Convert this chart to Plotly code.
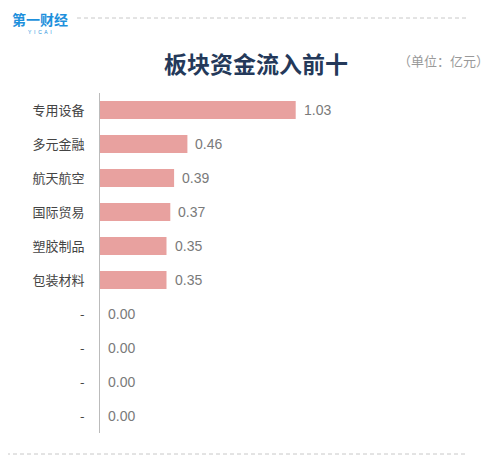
import plotly.graph_objects as go

categories = ["专用设备", "多元金融", "航天航空", "国际贸易", "塑胶制品", "包装材料", "-", "-", "-", "-"]
values = [1.03, 0.46, 0.39, 0.37, 0.35, 0.35, 0.00, 0.00, 0.00, 0.00]
value_labels = ["1.03", "0.46", "0.39", "0.37", "0.35", "0.35", "0.00", "0.00", "0.00", "0.00"]

# page has a small body margin; work in screen pixels and subtract it
OFF = 7
W, H = 490, 465
L = 99 - OFF
T = 92 - OFF
PLOT_W = 247
PLOT_H = 340
R = W - L - PLOT_W
B = H - T - PLOT_H
positions = list(range(len(categories)))

FONT = "Liberation Sans, Noto Sans CJK SC, sans-serif"


def px(x):
    return (x - OFF - L) / PLOT_W


def py(y):
    return (T + PLOT_H - (y - OFF)) / PLOT_H


fig = go.Figure()
fig.add_trace(go.Bar(
    x=values, y=positions, orientation="h",
    marker=dict(color="#e8a19f", line=dict(width=0)),
    hoverinfo="skip", showlegend=False,
))

annotations = []
for p, v, lab in zip(positions, values, value_labels):
    annotations.append(dict(
        x=v, y=p, xref="x", yref="y", text=lab, showarrow=False,
        xanchor="left", yanchor="middle", xshift=6,
        font=dict(family=FONT, size=14, color="#7a7a7a"),
    ))

# title and unit
annotations.append(dict(
    x=px(255), y=py(62), xref="paper", yref="paper",
    text="<b>板块资金流入前十</b>", showarrow=False,
    xanchor="center", yanchor="middle",
    font=dict(family="Noto Sans CJK SC", size=23, color="#24395a"),
))
annotations.append(dict(
    x=px(442), y=py(60), xref="paper", yref="paper",
    text="（单位：亿元）", showarrow=False,
    xanchor="center", yanchor="middle",
    font=dict(family="Noto Sans CJK SC", size=13, color="#999999"),
))
# logo
annotations.append(dict(
    x=px(39), y=py(18), xref="paper", yref="paper",
    text="<b>第一财经</b>", showarrow=False,
    xanchor="center", yanchor="middle",
    font=dict(family="Noto Sans CJK SC", size=14, color="#1e90dc"),
))
annotations.append(dict(
    x=px(39), y=py(31), xref="paper", yref="paper",
    text="Y  I  C  A  I", showarrow=False,
    xanchor="center", yanchor="middle",
    font=dict(family="Liberation Sans", size=5, color="#1e90dc"),
))

shapes = [
    dict(type="line", xref="paper", yref="paper",
         x0=px(76), x1=px(465), y0=py(17), y1=py(17),
         line=dict(color="#c8c8c8", width=1, dash="4px,3px")),
    dict(type="line", xref="paper", yref="paper",
         x0=px(5), x1=px(465), y0=py(453), y1=py(453),
         line=dict(color="#c8c8c8", width=1, dash="4px,3px")),
]

fig.update_layout(
    width=W, height=H,
    margin=dict(l=L, r=R, t=T, b=B, pad=0),
    paper_bgcolor="white", plot_bgcolor="white",
    bargap=0.47,
    annotations=annotations,
    shapes=shapes,
    xaxis=dict(range=[0, 1.3], visible=False, fixedrange=True),
    yaxis=dict(
        range=[len(categories) - 0.5, -0.5],
        tickvals=positions, ticktext=categories,
        showline=True, linecolor="#bbbbbb", linewidth=1,
        showgrid=False, zeroline=False,
        ticks="outside", ticklen=12, tickcolor="rgba(0,0,0,0)",
        tickfont=dict(family="Noto Sans CJK SC", size=13, color="#444444"),
        fixedrange=True,
    ),
)

fig.write_html("out.html")
